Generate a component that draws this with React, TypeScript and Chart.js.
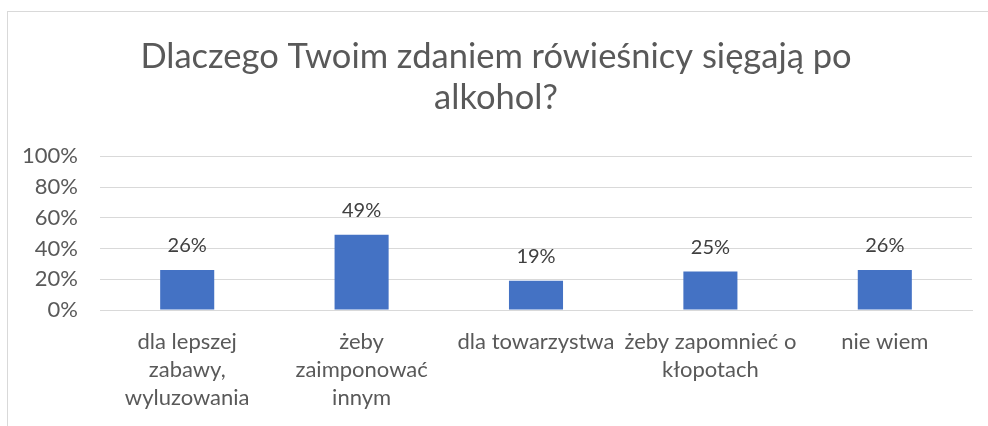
import React, { useEffect, useRef } from "react";
import { Chart, registerables } from "chart.js";

Chart.register(...registerables);

const titleLines = ["Dlaczego Twoim zdaniem rówieśnicy sięgają po", "alkohol?"];
const categories: string[][] = [
  ["dla lepszej", "zabawy,", "wyluzowania"],
  ["żeby", "zaimponować", "innym"],
  ["dla towarzystwa"],
  ["żeby zapomnieć o", "kłopotach"],
  ["nie wiem"],
];
const values = [26, 49, 19, 25, 26];
const yTicks = [0, 20, 40, 60, 80, 100];

const FONT = "Lato, 'Open Sans', sans-serif";

const dataLabelPlugin = {
  id: "dataLabels",
  afterDatasetsDraw(chart: any) {
    const ctx = chart.ctx;
    const meta = chart.getDatasetMeta(0);
    ctx.save();
    ctx.fillStyle = "#404040";
    ctx.font = `20px ${FONT}`;
    ctx.textAlign = "center";
    ctx.textBaseline = "bottom";
    meta.data.forEach((el: any, i: number) => {
      ctx.fillText(`${values[i]}%`, el.x, el.y - 14);
    });
    ctx.restore();
  },
};

export default function App() {
  const ref = useRef<HTMLCanvasElement | null>(null);
  useEffect(() => {
    document.body.style.margin = "0";
    const chart = new Chart(ref.current!, {
      type: "bar",
      data: {
        labels: categories,
        datasets: [
          {
            data: values,
            backgroundColor: "#4472C4",
            borderWidth: 0,
            barPercentage: 0.31,
            categoryPercentage: 1,
          },
        ],
      },
      options: {
        animation: false,
        responsive: false,
        maintainAspectRatio: false,
        layout: { padding: { left: 20, right: 16, top: 0, bottom: 0 } },
        plugins: {
          legend: { display: false },
          tooltip: { enabled: false },
          title: {
            display: true,
            text: titleLines,
            color: "#595959",
            font: { family: FONT, size: 34.5, weight: "normal" },
            lineHeight: 41 / 34.5,
            padding: { top: 36, bottom: 37.5 },
          },
        },
        scales: {
          y: {
            min: 0,
            max: 100,
            afterBuildTicks(scale: any) {
              scale.ticks = yTicks.map((v) => ({ value: v }));
            },
            afterFit(scale: any) {
              scale.width = 80;
            },
            ticks: {
              callback: (v: any) => `${v}%`,
              color: "#595959",
              font: { family: FONT, size: 22 },
              padding: 22,
            },
            grid: { color: "#D9D9D9", drawTicks: false, lineWidth: 1 },
            border: { display: false },
          },
          x: {
            afterFit(scale: any) {
              scale.height = 116;
            },
            ticks: {
              color: "#595959",
              font: { family: FONT, size: 22, lineHeight: 28 / 22 },
              padding: 18,
              maxRotation: 0,
              autoSkip: false,
            },
            grid: { display: false, drawTicks: false },
            border: { color: "#D9D9D9", width: 1 },
          },
        },
      },
      plugins: [dataLabelPlugin],
    });
    return () => chart.destroy();
  }, []);
  return (
    <div style={{ position: "relative", width: 988, height: 426, overflow: "hidden", background: "#fff" }}>
      <div
        style={{
          position: "absolute",
          left: 7,
          top: 11,
          width: 1100,
          height: 600,
          border: "1px solid #D9D9D9",
        }}
      />
      <canvas ref={ref} width={988} height={426} style={{ position: "absolute", left: 0, top: 0 }} />
    </div>
  );
}
